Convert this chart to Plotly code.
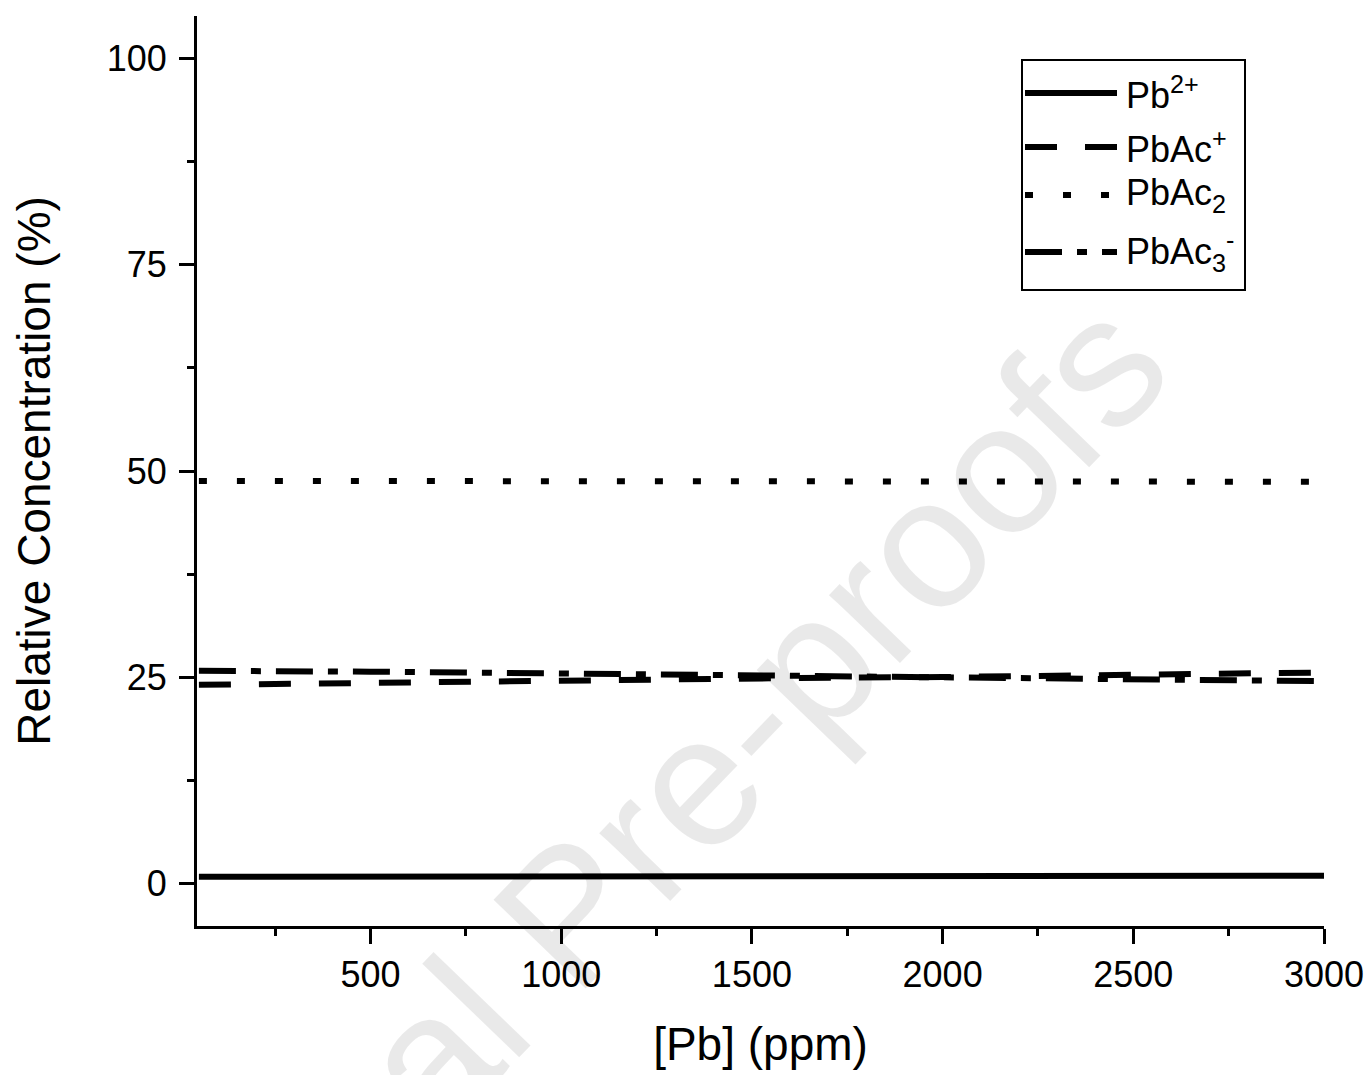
import plotly.graph_objects as go

# ---- data ----
pb_ppm = [50, 250, 500, 750, 1000, 1250, 1500, 1750, 2000, 2250, 2500, 2750, 3000]
pb2_plus = [0.85, 0.85, 0.85, 0.85, 0.85, 0.85, 0.85, 0.85, 0.85, 0.85, 0.85, 0.95, 1.0]
pbac_plus = [24.1, 24.2, 24.35, 24.6, 24.75, 24.85, 24.95, 25.0, 25.05, 25.15, 25.3, 25.5, 25.6]
pbac2 = [48.8, 48.8, 48.8, 48.8, 48.8, 48.8, 48.8, 48.8, 48.8, 48.8, 48.8, 48.75, 48.7]
pbac3_minus = [25.8, 25.8, 25.7, 25.6, 25.5, 25.35, 25.2, 25.1, 25.0, 24.95, 24.85, 24.7, 24.55]

series_names = ["Pb<sup>2+</sup>", "PbAc<sup>+</sup>", "PbAc<sub>2</sub>", "PbAc<sub>3</sub><sup>-</sup>"]
series_values = [pb2_plus, pbac_plus, pbac2, pbac3_minus]

x_tick_vals = [500, 1000, 1500, 2000, 2500, 3000]
y_tick_vals = [0, 25, 50, 75, 100]

# ---- styles ----
dashes = ["solid", "32px,28px", "8px,30px", "37px,15px,10px,15px"]
FONT = "Liberation Sans, Arial, sans-serif"

fig = go.Figure()
for name, vals, dash in zip(series_names, series_values, dashes):
    fig.add_trace(go.Scatter(x=pb_ppm, y=vals, mode="lines", name=name,
                             line=dict(color="black", width=6, dash=dash),
                             showlegend=False))

# plot area in page pixels
L, R, T, B = 197, 1324, 16, 926
W, H = R - L, B - T

def px(xp):
    return (xp - L) / W

def py(yp):
    return (B - yp) / H

# watermark
fig.add_annotation(text="Journal Pre-proofs", xref="paper", yref="paper",
                   x=px(600), y=py(880), xanchor="center", yanchor="middle",
                   showarrow=False, textangle=-46,
                   font=dict(family=FONT, size=186, color="rgba(0,0,0,0.085)"))

# manual legend
fig.add_shape(type="rect", xref="paper", yref="paper",
              x0=px(1022), x1=px(1245), y0=py(290), y1=py(60),
              line=dict(color="black", width=2), fillcolor="white", layer="below")
legend_y = [93, 147, 195, 252]
for name, dash, ly in zip(series_names, dashes, legend_y):
    fig.add_shape(type="line", xref="paper", yref="paper",
                  x0=px(1025), x1=px(1117), y0=py(ly), y1=py(ly),
                  line=dict(color="black", width=6, dash=dash))
    fig.add_annotation(text=name, xref="paper", yref="paper",
                       x=px(1124), y=py(ly), xanchor="left", yanchor="middle",
                       showarrow=False, font=dict(family=FONT, size=36, color="black"))

fig.update_layout(
    width=1372, height=1075,
    margin=dict(l=L, r=1372 - R, t=T, b=1075 - B, autoexpand=False),
    paper_bgcolor="white", plot_bgcolor="white",
    font=dict(family=FONT, color="black"),
    showlegend=False,
)
fig.update_xaxes(range=[45, 3000], tickvals=x_tick_vals, ticks="outside", ticklen=15, tickwidth=3,
                 tickcolor="black", showline=True, linewidth=3, linecolor="black",
                 showgrid=False, zeroline=False, tickfont=dict(size=36, family=FONT),
                 ticklabelstandoff=0,
                 minor=dict(dtick=250, tick0=0, ticks="outside", ticklen=7, tickwidth=3, tickcolor="black"),
                 title=dict(text="[Pb] (ppm)", font=dict(size=46, family=FONT), standoff=34))
fig.update_yaxes(range=[-5.1, 105.1], tickvals=y_tick_vals, ticks="outside", ticklen=15, tickwidth=3,
                 tickcolor="black", showline=True, linewidth=3, linecolor="black",
                 showgrid=False, zeroline=False, tickfont=dict(size=36, family=FONT),
                 ticklabelstandoff=5,
                 minor=dict(dtick=12.5, tick0=0, ticks="outside", ticklen=7, tickwidth=3, tickcolor="black"),
                 title=dict(text="Relative Concentration (%)", font=dict(size=46, family=FONT), standoff=42))

fig.write_html("out.html")
